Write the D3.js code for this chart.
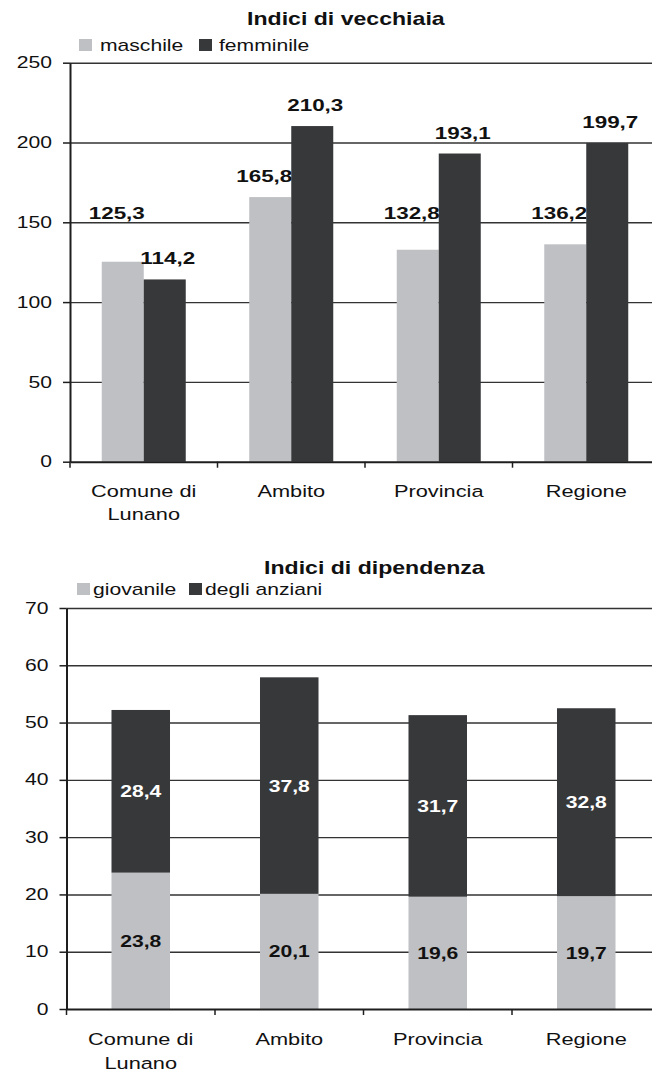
<!DOCTYPE html>
<html>
  <head>
    <meta charset="utf-8">
    <title>Indici di vecchiaia e di dipendenza</title>
    <style>
      body { margin: 0; background: #fff; }
      text { font-family: "Liberation Sans", Arial, sans-serif; fill: #111; }
    </style>
  </head>
  <body>

    <script src="https://cdn.jsdelivr.net/npm/d3@7"></script>

    <script type="text/javascript">

        // data
        var categories = ["Comune di Lunano", "Ambito", "Provincia", "Regione"];

        var vecchSeries = ["maschile", "femminile"];
        var maschile = [125.3, 165.8, 132.8, 136.2];
        var femminile = [114.2, 210.3, 193.1, 199.7];
        var vecchTicks = [0, 50, 100, 150, 200, 250];

        var dipSeries = ["giovanile", "degli anziani"];
        var giovanile = [23.8, 20.1, 19.6, 19.7];
        var anziani = [28.4, 37.8, 31.7, 32.8];
        var dipTicks = [0, 10, 20, 30, 40, 50, 60, 70];

        var light = "#bec0c3";
        var dark = "#37383a";

        // the source picture is stretched sideways, so all text is too
        var SX = 1.32;

        var fmt = d3.formatLocale({decimal: ",", thousands: ".", grouping: [3], currency: ["", "€"]}).format(".1f");

        var svg = d3.select("body")
          .append("svg")
          .attr("width", 652)
          .attr("height", 1074);

        function stext(g, x, y, str) {
          return g.append("text")
            .attr("transform", "translate(" + x + "," + y + ") scale(" + SX + ",1)")
            .text(str);
        }

        function drawGrid(g, x, y, ticks) {
          var left = x.range()[0], right = x.range()[1];
          g.append("g")
           .attr("transform", "translate(" + left + ",0)")
           .call(d3.axisLeft(y).tickValues(ticks.slice(1)).tickSize(-(right - left)).tickFormat(""))
           .call(function(s) {
             s.select(".domain").remove();
             s.selectAll("line").attr("stroke", "#333").attr("stroke-width", 1.4);
           });
        }

        function drawAxes(g, x, y, ticks, catBaselines) {
          var left = x.range()[0], bottom = y.range()[0];

          g.append("g")
           .attr("transform", "translate(" + left + ",0)")
           .call(d3.axisLeft(y).tickValues(ticks).tickSize(7).tickSizeOuter(0))
           .call(function(s) {
             s.attr("font-family", null).attr("font-size", 16);
             s.select(".domain").attr("stroke", "#1e1e1e").attr("stroke-width", 2);
             s.selectAll(".tick line").attr("stroke", "#1e1e1e").attr("stroke-width", 1.5);
             s.selectAll(".tick text")
              .attr("x", -18 / SX)
              .attr("transform", "scale(" + SX + ",1)")
              .attr("fill", "#111");
           });

          g.append("g")
           .attr("transform", "translate(0," + bottom + ")")
           .call(d3.axisBottom(x).tickSize(0).tickSizeOuter(0).tickFormat(""))
           .call(function(s) {
             s.select(".domain").attr("stroke", "#1e1e1e").attr("stroke-width", 2);
           });

          // ticks sit between the categories
          g.selectAll(".bound")
           .data(x.domain())
           .join("line")
           .attr("class", "bound")
           .attr("x1", function(d) { return x(d); })
           .attr("x2", function(d) { return x(d); })
           .attr("y1", bottom)
           .attr("y2", bottom + 6)
           .attr("stroke", "#1e1e1e")
           .attr("stroke-width", 1.5);

          x.domain().forEach(function(d) {
            var lines = d.replace(" di ", " di\n").split("\n");
            lines.forEach(function(line, i) {
              stext(g, x(d) + x.bandwidth() / 2, catBaselines[i], line)
                .attr("text-anchor", "middle")
                .attr("font-size", 16.5);
            });
          });
        }

        function drawLegend(g, names, colors, boxX, textX, baseline) {
          names.forEach(function(n, i) {
            g.append("rect")
             .attr("x", boxX[i])
             .attr("y", baseline - 12)
             .attr("width", 13)
             .attr("height", 12)
             .attr("fill", colors[i]);
            stext(g, textX[i], baseline, n).attr("font-size", 16);
          });
        }

        // ---------- Indici di vecchiaia ----------
        var gTop = svg.append("g");

        var x0 = d3.scaleBand().domain(categories).range([70, 660]);
        var x1 = d3.scaleBand().domain(vecchSeries).range([0, x0.bandwidth()]).paddingOuter(0.756);
        var yV = d3.scaleLinear().domain([0, 250]).range([461.7, 62.7]);

        stext(gTop, 247, 25, "Indici di vecchiaia").attr("font-weight", "bold").attr("font-size", 17.5);
        drawLegend(gTop, vecchSeries, [light, dark], [79, 199], [100, 219], 51);

        drawGrid(gTop, x0, yV, vecchTicks);

        var vecchData = [maschile, femminile];
        vecchData.forEach(function(vals, si) {
          var s = vecchSeries[si];
          gTop.selectAll(".bar-" + si)
             .data(categories)
             .join("rect")
             .attr("class", "bar-" + si)
             .attr("x", function(d) { return x0(d) + x1(s); })
             .attr("y", function(d, i) { return yV(vals[i]); })
             .attr("width", x1.bandwidth())
             .attr("height", function(d, i) { return yV(0) - yV(vals[i]); })
             .attr("fill", si === 0 ? light : dark);

          categories.forEach(function(d, i) {
            // the maschile labels sit no lower than the 150 line, as in the original
            var by = yV(vals[i]) - 15;
            if (si === 0) by = Math.min(by, yV(150) - 3);
            var cx = x0(d) + x1(s) + x1.bandwidth() / 2 + (si === 0 ? -6 : 3);
            stext(gTop, cx, by, fmt(vals[i]))
              .attr("text-anchor", "middle")
              .attr("font-weight", "bold")
              .attr("font-size", 17);
          });
        });

        drawAxes(gTop, x0, yV, vecchTicks, [496.5, 519.5]);

        // ---------- Indici di dipendenza ----------
        var gBot = svg.append("g");

        var xb = d3.scaleBand().domain(categories).range([66.5, 660.5]);
        var xbar = d3.scaleBand().domain(categories).range([66.5, 660.5]).paddingInner(0.606).paddingOuter(0.303);
        var yD = d3.scaleLinear().domain([0, 70]).range([1009, 608]);

        stext(gBot, 264, 574, "Indici di dipendenza").attr("font-weight", "bold").attr("font-size", 17.5);
        drawLegend(gBot, dipSeries, [light, dark], [77, 189], [93, 205], 595);

        drawGrid(gBot, xb, yD, dipTicks);

        var stack = d3.stack().keys([0, 1]).value(function(d, k) { return d[k]; });
        var rows = categories.map(function(c, i) { return [giovanile[i], anziani[i]]; });
        var layers = stack(rows);

        layers.forEach(function(layer, li) {
          gBot.selectAll(".seg-" + li)
             .data(layer)
             .join("rect")
             .attr("class", "seg-" + li)
             .attr("x", function(d, i) { return xbar(categories[i]); })
             .attr("y", function(d) { return yD(d[1]); })
             .attr("width", xbar.bandwidth())
             .attr("height", function(d) { return yD(d[0]) - yD(d[1]); })
             .attr("fill", li === 0 ? light : dark);

          layer.forEach(function(d, i) {
            stext(gBot, xbar(categories[i]) + xbar.bandwidth() / 2, yD((d[0] + d[1]) / 2) + 6, fmt(d[1] - d[0]))
              .attr("text-anchor", "middle")
              .attr("font-weight", "bold")
              .attr("font-size", 16)
              .style("fill", li === 0 ? "#111" : "#fff");
          });
        });

        drawAxes(gBot, xb, yD, dipTicks, [1045, 1069]);

    </script>

  </body>
</html>
